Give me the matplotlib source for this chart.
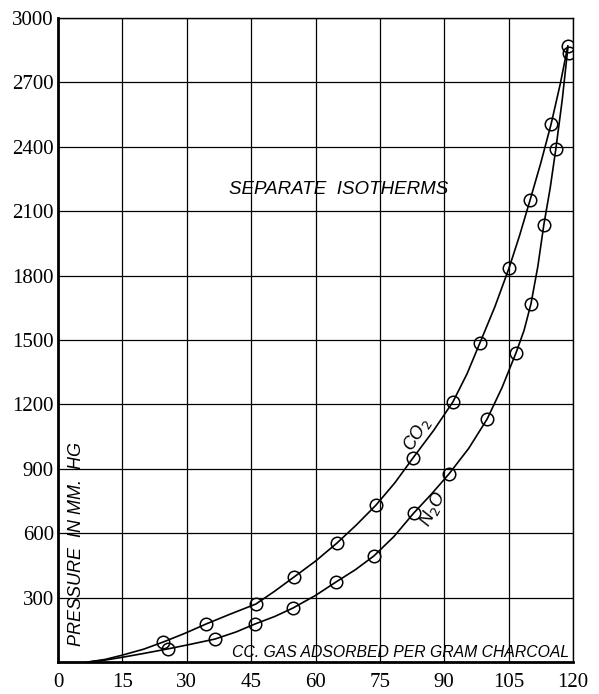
import matplotlib
matplotlib.use('Agg')
import matplotlib.pyplot as plt

# measured points (cc gas adsorbed per gram, pressure mm Hg)
co2_x = [24.5, 34.5, 46.1, 55.0, 65.0, 74.1, 82.7, 92.0, 98.3, 105.1, 110.0, 114.9, 118.8]
co2_y = [93, 177, 270, 396, 554, 731, 950, 1211, 1486, 1835, 2152, 2506, 2870]
n2o_x = [25.6, 36.6, 45.9, 54.8, 64.8, 73.6, 82.9, 91.1, 100.0, 106.7, 110.2, 113.2, 116.0, 119.1]
n2o_y = [61, 107, 177, 252, 373, 494, 694, 876, 1132, 1439, 1668, 2036, 2390, 2837]

# drawn curves
co2_curve_x = [7, 11, 15, 20, 24.5, 29.5, 34.5, 40, 46.1, 50.5, 55.0, 60, 65.0, 69.5, 74.1, 78.5,
               82.7, 87.5, 92.0, 95.3, 98.3, 101.8, 105.1, 107.6, 110.0, 112.5, 114.9, 117, 118.8]
co2_curve_y = [0, 12, 32, 60, 93, 133, 177, 222, 270, 330, 396, 470, 554, 638, 731, 835,
               950, 1078, 1211, 1342, 1486, 1655, 1835, 1990, 2152, 2325, 2506, 2690, 2870]
n2o_curve_x = [7, 11, 15, 20, 25.6, 31, 36.6, 41.5, 45.9, 50.5, 54.8, 60, 64.8, 69.3, 73.6, 78.3,
               82.9, 87, 91.1, 95.7, 100.0, 103.5, 106.7, 108.6, 110.2, 111.8, 113.2, 114.7, 116.0,
               117.5, 118.8]
n2o_curve_y = [0, 9, 22, 40, 61, 83, 107, 140, 177, 212, 252, 310, 373, 430, 494, 585,
               694, 782, 876, 995, 1132, 1280, 1439, 1545, 1668, 1842, 2036, 2210, 2390,
               2620, 2860]

xticks = [0, 15, 30, 45, 60, 75, 90, 105, 120]
yticks = [300, 600, 900, 1200, 1500, 1800, 2100, 2400, 2700, 3000]

fig = plt.figure(figsize=(5.99, 6.94), dpi=100)
ax = fig.add_axes([58 / 599, 1 - 662 / 694, 515 / 599, 644 / 694])

ax.plot(co2_curve_x, co2_curve_y, color='black', lw=1.2)
ax.plot(n2o_curve_x, n2o_curve_y, color='black', lw=1.2)
ax.plot(co2_x, co2_y, 'o', ms=9, mfc='none', mec='black', mew=1.1)
ax.plot(n2o_x, n2o_y, 'o', ms=9, mfc='none', mec='black', mew=1.1)

ax.set_xlim(0, 120)
ax.set_ylim(0, 3000)
ax.set_xticks(xticks)
ax.set_yticks(yticks)
ax.grid(True, color='black', lw=0.9)
ax.tick_params(length=0, labelsize=15)
ax.tick_params(axis='x', pad=8)
ax.tick_params(axis='y', pad=3)
for lab in ax.get_xticklabels() + ax.get_yticklabels():
    lab.set_family('Liberation Serif')
for side in ['left', 'bottom']:
    ax.spines[side].set_linewidth(2)
for side in ['top', 'right']:
    ax.spines[side].set_linewidth(1)

ax.text(65.5, 2200, 'SEPARATE  ISOTHERMS', style='italic', fontsize=13.5,
        family='Liberation Sans', ha='center', va='center')
ax.text(119, 45, 'CC. GAS ADSORBED PER GRAM CHARCOAL', style='italic', fontsize=11.3,
        family='Liberation Sans', ha='right', va='center')
ax.text(4.2, 550, 'PRESSURE  IN MM.  HG', style='italic', fontsize=13,
        family='Liberation Sans', ha='center', va='center', rotation=90)
ax.text(83.6, 1060, r'CO$_2$', style='italic', fontsize=13,
        family='Liberation Sans', ha='center', va='center', rotation=58)
ax.text(87.3, 715, r'N$_2$O', style='italic', fontsize=13,
        family='Liberation Sans', ha='center', va='center', rotation=62)

fig.savefig('out.png', dpi=100)
